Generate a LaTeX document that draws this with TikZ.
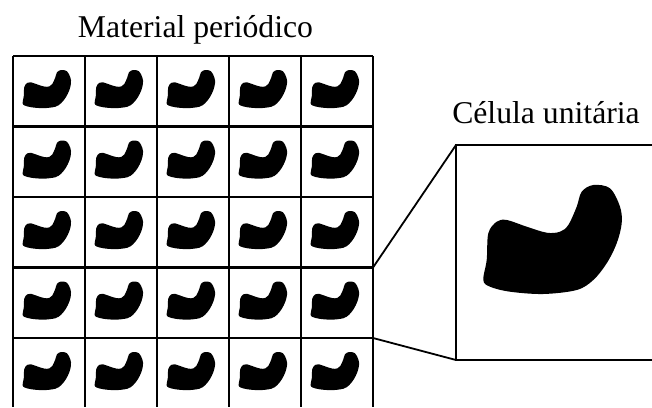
\documentclass[tikz,border=0pt]{standalone}
\usepackage{fontspec}
\setmainfont{Liberation Serif}
\begin{document}
\begin{tikzpicture}[x=1pt,y=-1pt,
  gridline/.style={line width=2.2pt},
  linkline/.style={line width=1.8pt},
  label/.style={font=\fontsize{31.7}{36}\selectfont, anchor=base, inner sep=0pt},
  blob/.pic={\fill[black] plot[smooth cycle, tension=0.55] coordinates {
    (27.3,135) (30.7,115) (32.3,88.3) (40.7,76.7) (50.7,75) (70.7,81.7)
    (90.7,87.7) (104,86.7) (112.3,80) (120.7,61.7) (125.7,46.7) (137.3,40)
    (154,43.3) (164,61.7) (165.7,78.3) (160.7,98.3) (150.7,118.3) (137.3,135)
    (120.7,145) (87.3,149) (54,146.7) (34,141.7)};}
]
\useasboundingbox (0,0) rectangle (652,407);
% grid
\foreach \i in {0,...,5} {
  \draw[gridline] ({13+72*\i},56) -- ({13+72*\i},407);
}
\foreach \j in {0,...,4} {
  \draw[gridline] (13,{56+70.5*\j}) -- (373,{56+70.5*\j});
}
\foreach \i in {0,...,4} {
  \foreach \j in {0,...,4} {
    \pic[scale=0.35] at ({13+72*\i},{56+70.5*\j}) {blob};
  }
}
% unit cell corners
\coordinate (ctop) at (373,267.5);
\coordinate (cbot) at (373,338);
\coordinate (boxtl) at (456,145);
\coordinate (boxbl) at (456,360);
\coordinate (boxtr) at (652,145);
\coordinate (boxbr) at (652,360);
\draw[gridline] (boxtr) -- (boxtl) -- (boxbl) -- (boxbr);
\pic at (boxtl) {blob};
\draw[linkline] (ctop) -- (boxtl);
\draw[linkline] (cbot) -- (boxbl);
% labels
\node[label] (mat) at (195.5,37) {Material periódico};
\node[label] (cel) at (546,123) {Célula unitária};
\end{tikzpicture}
\end{document}
